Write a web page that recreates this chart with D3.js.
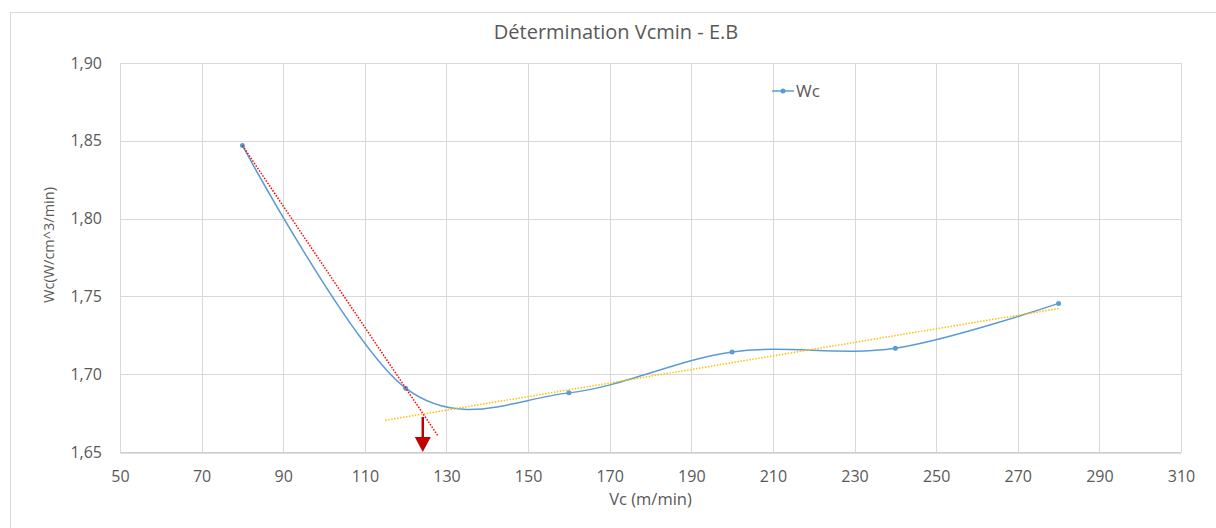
<!DOCTYPE html>
<html><head><meta charset="utf-8">
<script src="https://cdn.jsdelivr.net/npm/d3@7/dist/d3.min.js"></script>
<style>body{margin:0;background:#fff;}svg{display:block;font-family:"Open Sans","Liberation Sans",sans-serif;}</style>
</head><body><svg id="c" width="1216" height="528"></svg>
<script>
const title = "Détermination Vcmin - E.B";
const xTitle = "Vc (m/min)";
const yTitle = "Wc(W/cm^3/min)";
const seriesName = "Wc";
const vc = [80, 120, 160, 200, 240, 280];
const wc = [1.847, 1.691, 1.688, 1.7143, 1.7167, 1.7455];
const xTicks = [50,70,90,110,130,150,170,190,210,230,250,270,290,310];
const yTicks = [1.65,1.70,1.75,1.80,1.85,1.90];
const redTrendX = [80, 128];
const redTrendY = [1.847, 1.660];
const yellowTrendX = [115, 280];
const yellowTrendY = [1.6704, 1.7422];
const arrowX = [124.2, 124.2];
const arrowY = [1.6725, 1.65];

const svg = d3.select("#c");
const L = 120, R = 1181, T = 63, B = 452;
const x = d3.scaleLinear().domain([50,310]).range([L,R]);
const y = d3.scaleLinear().domain([1.65,1.90]).range([B,T]);

// chart frame
svg.append("rect").attr("x",10.5).attr("y",12.5).attr("width",1230).attr("height",540)
  .attr("fill","#fff").attr("stroke","#d9d9d9");

// gridlines
svg.append("g").selectAll("line").data(xTicks).join("line")
  .attr("x1",d=>Math.round(x(d))+0.5).attr("x2",d=>Math.round(x(d))+0.5)
  .attr("y1",T).attr("y2",B).attr("stroke","#d9d9d9");
svg.append("g").selectAll("line").data(yTicks).join("line")
  .attr("y1",d=>Math.round(y(d))+0.5).attr("y2",d=>Math.round(y(d))+0.5)
  .attr("x1",L).attr("x2",R).attr("stroke","#d9d9d9");

// axes
const fmt = d3.format(".2f");
const xa = svg.append("g").attr("transform",`translate(0,${Math.round(B)+0.5})`)
  .call(d3.axisBottom(x).tickValues(xTicks).tickSize(0).tickPadding(18).tickFormat(d3.format("d")));
xa.select(".domain").attr("stroke","#bfbfbf");
const ya = svg.append("g").attr("transform",`translate(${L},0)`)
  .call(d3.axisLeft(y).tickValues(yTicks).tickSize(0).tickPadding(18).tickFormat(d=>fmt(d).replace(".",",")));
ya.select(".domain").remove();
svg.selectAll(".tick text").attr("font-size",16).attr("fill","#595959")
  .attr("font-family","'Open Sans','Liberation Sans',sans-serif");

// titles
svg.append("text").attr("x",616).attr("y",39).attr("text-anchor","middle")
  .attr("font-size",20).attr("fill","#595959").text(title);
svg.append("text").attr("x",(L+R)/2).attr("y",505).attr("text-anchor","middle")
  .attr("font-size",16.5).attr("fill","#595959").text(xTitle);
svg.append("text").attr("transform",`translate(54,245) rotate(-90)`).attr("text-anchor","middle")
  .attr("font-size",14.5).attr("fill","#595959").text(yTitle);

// series
const pts = vc.map((v,i)=>[v,wc[i]]);
svg.append("path").datum(pts)
  .attr("d",d3.line().x(d=>x(d[0])).y(d=>y(d[1])).curve(d3.curveCardinal.tension(0)))
  .attr("fill","none").attr("stroke","#5b9bd5").attr("stroke-width",1.5);
svg.append("g").selectAll("circle").data(pts).join("circle")
  .attr("cx",d=>x(d[0])).attr("cy",d=>y(d[1])).attr("r",2.5).attr("fill","#5b9bd5");

// trendlines
const lineG = d3.line().x(d=>x(d[0])).y(d=>y(d[1]));
svg.append("path").datum(redTrendX.map((v,i)=>[v,redTrendY[i]])).attr("d",lineG)
  .attr("fill","none").attr("stroke","#ff0000").attr("stroke-width",1.5).attr("stroke-dasharray","1.5,1.5");
svg.append("path").datum(yellowTrendX.map((v,i)=>[v,yellowTrendY[i]])).attr("d",lineG)
  .attr("fill","none").attr("stroke","#ffc000").attr("stroke-width",1.5).attr("stroke-dasharray","1.5,1.5");

// arrow
const ax = x(arrowX[0]), ay0 = y(arrowY[0]), ay1 = y(arrowY[1]);
svg.append("line").attr("x1",ax).attr("x2",ax).attr("y1",ay0).attr("y2",ay1-12)
  .attr("stroke","#c00000").attr("stroke-width",2.5);
svg.append("path").attr("d",`M${ax-8},${ay1-15}L${ax+8},${ay1-15}L${ax},${ay1}Z`).attr("fill","#c00000");

// legend
svg.append("line").attr("x1",772).attr("x2",794).attr("y1",91).attr("y2",91)
  .attr("stroke","#5b9bd5").attr("stroke-width",1.5);
svg.append("circle").attr("cx",783).attr("cy",91).attr("r",2.5).attr("fill","#5b9bd5");
svg.append("text").attr("x",796).attr("y",97).attr("font-size",17).attr("fill","#595959").text(seriesName);
</script></body></html>
